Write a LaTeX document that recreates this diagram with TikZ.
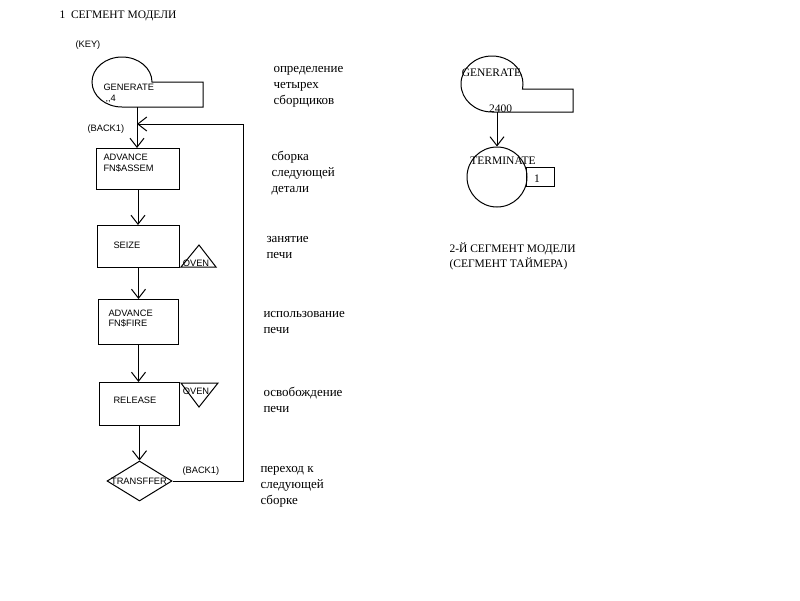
\documentclass[tikz,border=0pt]{standalone}
\usepackage{fontspec}
\setmainfont{Liberation Serif}
\newfontfamily\arialf{Liberation Sans}
\usetikzlibrary{arrows.meta,shapes.geometric}
\begin{document}
\begin{tikzpicture}[x=1pt,y=-1pt,line width=1pt,
  blk/.style={draw,rectangle,inner sep=0pt,anchor=north west},
  sans/.style={font=\arialf\fontsize{9.3}{10.8}\selectfont,inner sep=0pt,align=left},
  note/.style={font=\fontsize{13}{15.8}\selectfont,inner sep=0pt,align=left,anchor=north west},
  head/.style={font=\fontsize{11.5}{15}\selectfont,inner sep=0pt,align=left},
  arr/.style={-{Straight Barb[length=9pt,width=14pt]}},
]
\useasboundingbox (0,0) rectangle (800,600);

% headers
\node[head,anchor=west] (h1) at (59,16) {1\ \ СЕГМЕНТ МОДЕЛИ};
\node[head,anchor=west] (h2) at (449,256) {2-Й СЕГМЕНТ МОДЕЛИ\\(СЕГМЕНТ ТАЙМЕРА)};

% ---------- segment 1 ----------
\node[sans,anchor=west] (key) at (75,45) {(KEY)};
\draw (122,107) arc[start angle=90,end angle=360,x radius=30,y radius=25] -- (203,82) -- (203,107) -- cycle;
\coordinate (gen1) at (137,107);
\node[sans,anchor=west] (gen1t) at (103,87) {GENERATE};
\node[sans,anchor=west] (gen1a) at (105,99) {,,4};

\node[blk,minimum width=83pt,minimum height=41pt] (adv1) at (96,148) {};
\node[sans,anchor=west] (adv1t) at (103,163) {ADVANCE\\FN\$ASSEM};
\node[blk,minimum width=82pt,minimum height=42pt] (seize) at (97,225) {};
\node[sans,anchor=west] (seizet) at (113,245) {SEIZE};
\node[blk,minimum width=80pt,minimum height=45pt] (adv2) at (98,299) {};
\node[sans,anchor=west] (adv2t) at (108,318.5) {ADVANCE\\FN\$FIRE};
\node[blk,minimum width=80pt,minimum height=43pt] (rel) at (99,382) {};
\node[sans,anchor=west] (relt) at (113,400) {RELEASE};

\coordinate (tri1a) at (181,267);
\coordinate (tri1b) at (199,245);
\coordinate (tri1c) at (216,267);
\draw (tri1a) -- (tri1b) -- (tri1c) -- cycle;
\node[sans] (oven1) at (196,263) {OVEN};
\coordinate (tri2a) at (181,383);
\coordinate (tri2b) at (218,383);
\coordinate (tri2c) at (199,407);
\draw (tri2a) -- (tri2b) -- (tri2c) -- cycle;
\node[sans] (oven2) at (196,391) {OVEN};

\node[diamond,draw,minimum width=65pt,minimum height=40pt,inner sep=0pt] (tr) at (139.5,481) {};
\node[sans] (trt) at (139,481) {TRANSFFER};

\node[sans,anchor=west] (back1t) at (87,129) {(BACK1)};
\node[sans,anchor=west] (back2t) at (182,471) {(BACK1)};

\draw[arr] (gen1) -- (gen1 |- adv1.north);
\draw[arr] (adv1.south) -- (adv1.south |- seize.north);
\draw[arr] (seize.south) -- (seize.south |- adv2.north);
\draw[arr] (adv2.south) -- (adv2.south |- rel.north);
\draw[arr] (rel.south) -- (rel.south |- tr.north);
\coordinate (back1) at (137,124);
\coordinate (looptop) at (243,124);
\draw[arr] (tr.east) -| (looptop) -- (back1);

% notes
\node[note] (n1) at (273,61) {\strut определение\\четырех\\сборщиков};
\node[note] (n2) at (271,149) {\strut сборка\\следующей\\детали};
\node[note] (n3) at (266,231) {\strut занятие\\печи};
\node[note] (n4) at (263,306) {\strut использование\\печи};
\node[note] (n5) at (263,385) {\strut освобождение\\печи};
\node[note] (n6) at (260,461) {\strut переход к\\следующей\\сборке};

% ---------- segment 2 ----------
\draw (492,112) arc[start angle=90,end angle=370.3,x radius=31,y radius=28] -- (573,89) -- (573,112) -- cycle;
\coordinate (gen2) at (497,112);
\node[head] (gen2t) at (491.5,73) {GENERATE};
\node[head] (gen2n) at (500.5,109) {2400};
\node[circle,draw,minimum size=60pt,inner sep=0pt] (term) at (497,177) {};
\draw[arr] (gen2) -- (term.north);
\node[blk,minimum width=28pt,minimum height=19pt] (termbox) at (526,167) {};
\node[head] (termt) at (503,161) {TERMINATE};
\node[head] (termn) at (537,179) {1};
\end{tikzpicture}
\end{document}
